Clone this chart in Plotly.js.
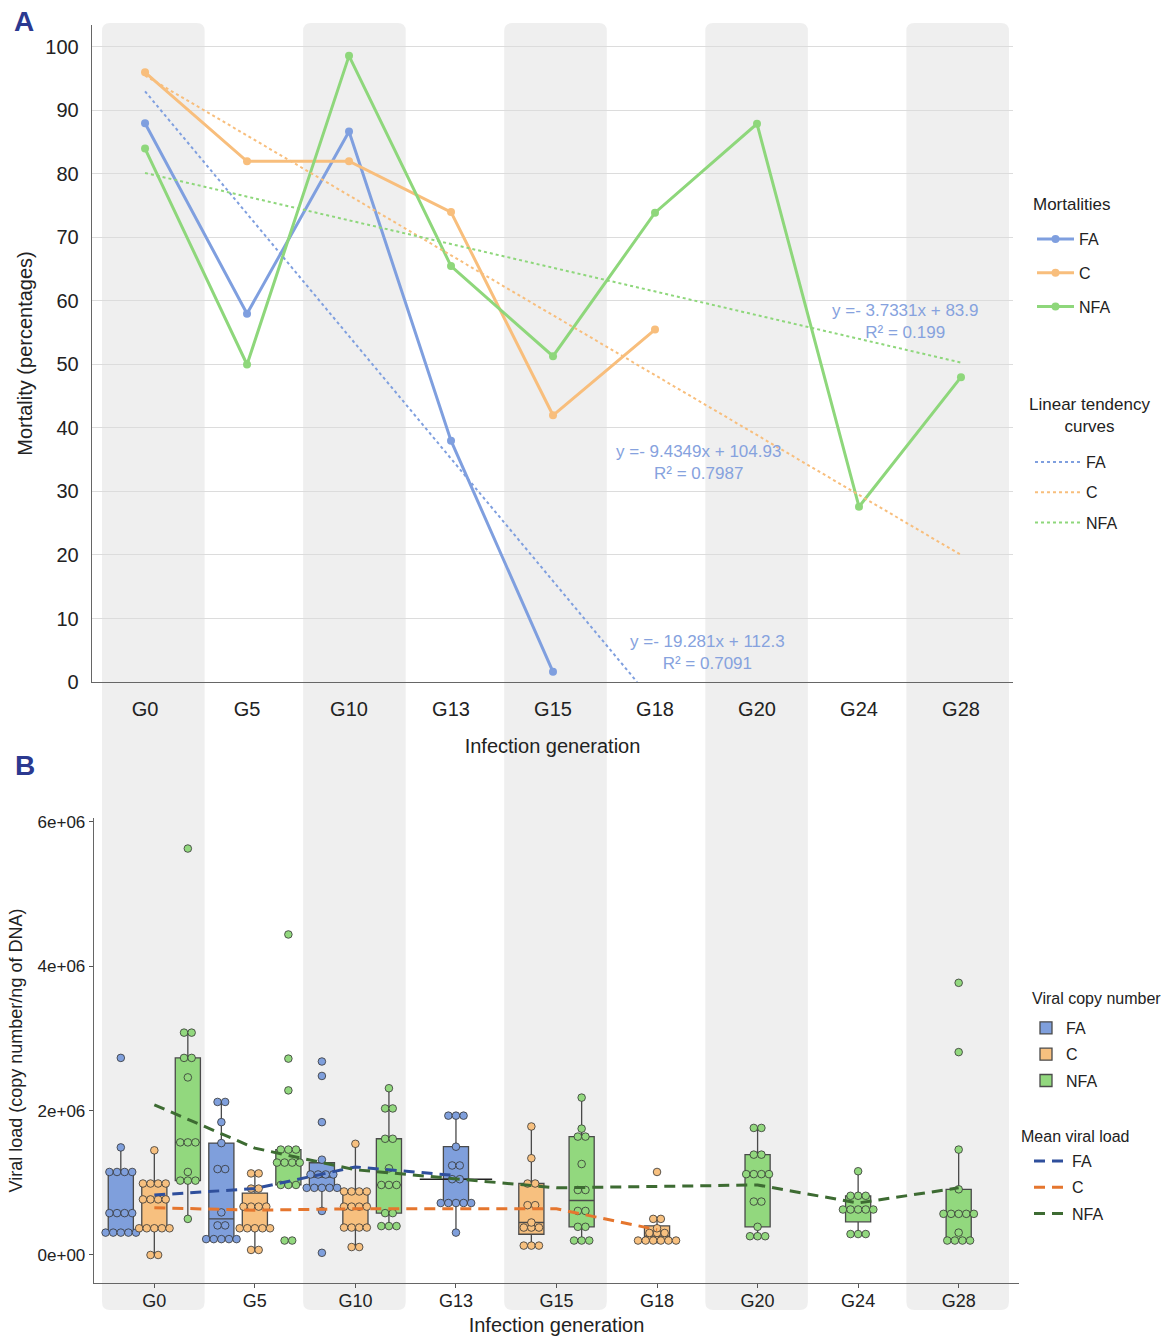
<!DOCTYPE html>
<html>
<head>
<meta charset="utf-8">
<script src="https://cdn.plot.ly/plotly-3.0.1.min.js"></script>
<style>
  html, body { margin: 0; padding: 0; background: #ffffff; }
  #chart { width: 1168px; height: 1338px; }
</style>
</head>
<body>
<div id="chart"></div>
<script>
// ---------- data ----------
const generations = ['G0', 'G5', 'G10', 'G13', 'G15', 'G18', 'G20', 'G24', 'G28'];

// Panel A: mortality (%) by infection generation
const mortalityFA  = [88, 58, 86.7, 38, 1.6];
const mortalityC   = [96, 82, 82, 74, 42, 55.5];
const mortalityNFA = [84, 50, 98.6, 65.5, 51.3, 73.9, 87.9, 27.6, 48];

// Linear fits on generation rank (1..9): [slope, intercept, R²]
const fitFA  = [-19.281, 112.3, 0.7091];
const fitC   = [-9.4349, 104.93, 0.7987];
const fitNFA = [-3.7331, 83.9, 0.199];

// Panel B: viral copy number per ng of DNA (millions), one list per generation
const viralFA = [
  [2.73, 1.49, 1.15, 1.15, 1.15, 1.15, 0.58, 0.58, 0.58, 0.58, 0.31, 0.31, 0.31, 0.31, 0.31],
  [2.12, 2.12, 1.84, 1.55, 1.19, 1.19, 0.59, 0.41, 0.41, 0.22, 0.22, 0.22, 0.22, 0.22],
  [2.68, 2.48, 1.84, 1.32, 1.15, 1.15, 1.15, 1.08, 0.93, 0.93, 0.93, 0.93, 0.93, 0.61, 0.03],
  [1.93, 1.93, 1.93, 1.5, 1.24, 1.24, 1.05, 1.05, 0.72, 0.72, 0.72, 0.72, 0.72, 0.31],
  [], [], [], [], []
];
const viralC = [
  [1.45, 0.99, 0.99, 0.99, 0.99, 0.77, 0.77, 0.77, 0.77, 0.37, 0.37, 0.37, 0.37, 0.37, 0.0, 0.0],
  [1.13, 1.13, 0.92, 0.92, 0.67, 0.67, 0.67, 0.67, 0.37, 0.37, 0.37, 0.37, 0.37, 0.07, 0.07],
  [1.54, 0.88, 0.88, 0.88, 0.88, 0.67, 0.67, 0.67, 0.67, 0.38, 0.38, 0.38, 0.38, 0.11, 0.11],
  [],
  [1.78, 1.34, 0.99, 0.99, 0.69, 0.69, 0.45, 0.42, 0.38, 0.34, 0.13, 0.13, 0.13],
  [1.15, 0.5, 0.5, 0.37, 0.35, 0.33, 0.26, 0.24, 0.22, 0.2, 0.19, 0.17, 0.16],
  [], [], []
];
const viralNFA = [
  [5.63, 3.08, 3.08, 2.73, 2.73, 2.46, 1.56, 1.56, 1.56, 1.15, 1.03, 1.03, 1.03, 0.5],
  [4.44, 2.72, 2.28, 1.46, 1.46, 1.46, 1.28, 1.28, 1.28, 1.28, 0.97, 0.97, 0.97, 0.2, 0.2],
  [2.31, 2.03, 2.03, 1.61, 1.61, 1.2, 0.97, 0.97, 0.97, 0.58, 0.58, 0.4, 0.4, 0.4],
  [],
  [2.18, 1.75, 1.64, 1.64, 1.26, 0.9, 0.9, 0.61, 0.61, 0.39, 0.39, 0.2, 0.2, 0.2],
  [],
  [1.76, 1.76, 1.39, 1.39, 1.12, 1.12, 1.12, 1.12, 0.74, 0.74, 0.39, 0.26, 0.26, 0.26],
  [1.16, 0.82, 0.82, 0.82, 0.63, 0.63, 0.63, 0.63, 0.63, 0.29, 0.29, 0.29],
  [3.77, 2.81, 1.46, 0.91, 0.57, 0.57, 0.57, 0.57, 0.57, 0.31, 0.2, 0.2, 0.2, 0.2]
];

// Mean viral load per generation (millions); null where the group was not sampled
const meanFA  = [0.83, 0.92, 1.22, 1.10, null, null, null, null, null];
const meanC   = [0.655, 0.62, 0.64, null, 0.64, 0.35, null, null, null];
const meanNFA = [2.08, 1.48, 1.18, null, 0.93, null, 0.97, 0.72, 0.93];

// ---------- styling ----------
const UNIT = 1e6;
const FONT = '"Liberation Sans", Arial, sans-serif';
const INK = '#222222';
const groups = ['FA', 'C', 'NFA'];
const viral = { FA: viralFA, C: viralC, NFA: viralNFA };
const means = { FA: meanFA, C: meanC, NFA: meanNFA };
const lineCol = { FA: '#7f9fdf', C: '#f8be7c', NFA: '#8ed77b' };
const boxCol  = { FA: '#7f9fdc', C: '#f7c07f', NFA: '#92d87e' };
const meanCol = { FA: '#2f4f9c', C: '#e5762e', NFA: '#3d6b32' };

const W = 1168, H = 1338;
const domA = { x: [92 / W, 1013 / W], y: [1 - 682 / H, 1 - 25 / H] };
const domB = { x: [94 / W, 1019 / W], y: [1 - 1283 / H, 1 - 818 / H] };
const rangeAx = [-0.52, 8.51];
const rangeBx = [-0.6, 8.6];
const rangeBy = [-0.388 * UNIT, 6.053 * UNIT];

const traces = [];

// ---------- panel A ----------
const mort = { FA: mortalityFA, C: mortalityC, NFA: mortalityNFA };
groups.forEach(k => {
  traces.push({
    type: 'scatter', mode: 'lines+markers', xaxis: 'x', yaxis: 'y',
    x: mort[k].map((_, i) => i), y: mort[k],
    name: k, legend: 'legend', legendgroup: 'mort' + k,
    line: { color: lineCol[k], width: 3 },
    marker: { color: lineCol[k], size: 8 },
    hoverinfo: 'skip'
  });
});

// trend lines evaluated from the fitted equations (rank t = index + 1)
const fits = { FA: fitFA, C: fitC, NFA: fitNFA };
groups.forEach(k => {
  const [a, b] = fits[k];
  const tEnd = Math.min(generations.length, -b / a);
  const ts = [1, tEnd];
  traces.push({
    type: 'scatter', mode: 'lines', xaxis: 'x', yaxis: 'y',
    x: ts.map(t => t - 1), y: ts.map(t => a * t + b),
    name: k, legend: 'legend2', legendgroup: 'fit' + k,
    line: { color: lineCol[k], width: 2, dash: 'dot' },
    hoverinfo: 'skip'
  });
});

// ---------- panel B ----------
function present(g) { return groups.filter(k => viral[k][g].length > 0); }
function offset(k, g) {
  const p = present(g);
  return (p.indexOf(k) + 0.5) / p.length - 0.5;
}
// dot-density binning: each bin spans at most binWidth and is centred on its range
function dotBins(values, binWidth) {
  const v = values.slice().sort((a, b) => a - b);
  const bins = [];
  let i = 0;
  while (i < v.length) {
    let j = i;
    while (j < v.length && v[j] < v[i] + binWidth - 1e-9) j++;
    bins.push({ n: j - i, centre: (v[i] + v[j - 1]) / 2 });
    i = j;
  }
  return bins;
}
function median(values) {
  const v = values.slice().sort((a, b) => a - b);
  const h = (v.length - 1) / 2;
  return (v[Math.floor(h)] + v[Math.ceil(h)]) / 2;
}
const pxPerUnitB = (domB.x[1] - domB.x[0]) * W / (rangeBx[1] - rangeBx[0]);
const dotStep = 7.6 / pxPerUnitB;
const BIN = 0.1;

groups.forEach(k => {
  const bx = [], by = [];
  viral[k].forEach((vals, g) => {
    vals.forEach(v => { bx.push(g + offset(k, g)); by.push(v * UNIT); });
  });
  traces.push({
    type: 'box', xaxis: 'x2', yaxis: 'y2', x: bx, y: by,
    name: k, legend: 'legend3', legendgroup: 'box' + k,
    width: 0.25, whiskerwidth: 0, boxpoints: 'outliers', quartilemethod: 'linear',
    fillcolor: boxCol[k],
    line: { color: '#4a4a4a', width: 1.3 },
    marker: { size: 1, opacity: 0 },
    hoverinfo: 'skip'
  });
});

// wide median bar for the lone FA box at G13
const g13 = generations.indexOf('G13');
const medG13 = median(viralFA[g13]) * UNIT;
traces.push({
  type: 'scatter', mode: 'lines', xaxis: 'x2', yaxis: 'y2',
  x: [g13 - 0.36, g13 + 0.36], y: [medG13, medG13],
  line: { color: '#222222', width: 1.6 }, showlegend: false, hoverinfo: 'skip'
});

groups.forEach(k => {
  const dx = [], dy = [];
  viral[k].forEach((vals, g) => {
    if (!vals.length) return;
    const c = g + offset(k, g);
    dotBins(vals, BIN).forEach(bin => {
      for (let j = 0; j < bin.n; j++) {
        dx.push(c + (j - (bin.n - 1) / 2) * dotStep);
        dy.push(bin.centre * UNIT);
      }
    });
  });
  traces.push({
    type: 'scatter', mode: 'markers', xaxis: 'x2', yaxis: 'y2', x: dx, y: dy,
    showlegend: false, hoverinfo: 'skip',
    marker: { size: 7.6, color: boxCol[k], line: { color: '#333333', width: 0.8 } }
  });
});

groups.forEach(k => {
  traces.push({
    type: 'scatter', mode: 'lines', xaxis: 'x2', yaxis: 'y2',
    x: generations.map((_, i) => i), y: means[k].map(v => v === null ? null : v * UNIT),
    connectgaps: true, name: k, legend: 'legend4', legendgroup: 'mean' + k,
    line: { color: meanCol[k], width: 3, dash: '11px,7px' },
    hoverinfo: 'skip'
  });
});

// ---------- background bands on alternate generations ----------
function roundedBand(x0, x1, y0, y1, rx, ry) {
  return `M${x0 + rx},${y0} L${x1 - rx},${y0} Q${x1},${y0} ${x1},${y0 + ry} ` +
         `L${x1},${y1 - ry} Q${x1},${y1} ${x1 - rx},${y1} L${x0 + rx},${y1} ` +
         `Q${x0},${y1} ${x0},${y1 - ry} L${x0},${y0 + ry} Q${x0},${y0} ${x0 + rx},${y0} Z`;
}
const shapes = [];
generations.forEach((g, i) => {
  if (i % 2 !== 0) return;
  shapes.push({
    type: 'path', xref: 'x2', yref: 'paper', layer: 'below',
    path: roundedBand(i - 0.52, i + 0.5, 1 - 1310 / H, 1 - 23 / H, 0.08, 8 / H),
    fillcolor: '#efefef', line: { width: 0 }
  });
});

// ---------- annotations ----------
function eqText(fit) {
  return `y =- ${Math.abs(fit[0])}x + ${fit[1]}<br>R² = ${fit[2]}`;
}
const eqFont = { family: FONT, size: 17, color: '#86a2de' };
function paperText(text, xpx, ypx, size, xanchor) {
  return { xref: 'paper', yref: 'paper', x: xpx / W, y: 1 - ypx / H, text: text, showarrow: false,
           xanchor: xanchor, yanchor: 'middle', align: 'center', font: { family: FONT, size: size, color: INK } };
}
const annotations = [
  { xref: 'x', yref: 'y', x: 7.46, y: 56.7, text: eqText(fitNFA), showarrow: false, font: eqFont, align: 'center' },
  { xref: 'x', yref: 'y', x: 5.43, y: 34.5, text: eqText(fitC), showarrow: false, font: eqFont, align: 'center' },
  { xref: 'x', yref: 'y', x: 5.51, y: 4.6, text: eqText(fitFA), showarrow: false, font: eqFont, align: 'center' },
  { xref: 'paper', yref: 'paper', x: 24 / W, y: 1 - 21 / H, xanchor: 'center', yanchor: 'middle',
    text: '<b>A</b>', showarrow: false, font: { family: FONT, size: 28, color: '#2b3990' } },
  { xref: 'paper', yref: 'paper', x: 25 / W, y: 1 - 765 / H, xanchor: 'center', yanchor: 'middle',
    text: '<b>B</b>', showarrow: false, font: { family: FONT, size: 28, color: '#2b3990' } },
  // legend headings
  paperText('Mortalities', 1031, 204, 17, 'left'),
  paperText('Linear tendency<br>curves', 1089, 415, 17, 'center'),
  paperText('Viral copy number', 1030, 998, 16, 'left'),
  paperText('Mean viral load', 1019, 1136, 16, 'left')
];

// ---------- layout ----------
const legendBase = {
  xanchor: 'left', yanchor: 'top', bgcolor: 'rgba(0,0,0,0)', borderwidth: 0,
  font: { family: FONT, size: 16, color: INK }
};

const layout = {
  width: W, height: H,
  margin: { l: 0, r: 0, t: 0, b: 0 },
  paper_bgcolor: '#ffffff', plot_bgcolor: 'rgba(0,0,0,0)',
  font: { family: FONT, color: INK },
  showlegend: true, boxmode: 'overlay',
  xaxis: {
    domain: domA.x, range: rangeAx, anchor: 'y',
    tickmode: 'array', tickvals: generations.map((_, i) => i), ticktext: generations,
    ticks: '', ticklabelstandoff: 9, tickfont: { family: FONT, size: 20, color: INK },
    showgrid: false, zeroline: false, showline: true, linecolor: '#666666', linewidth: 1.3,
    title: { text: 'Infection generation', font: { family: FONT, size: 20, color: INK }, standoff: 19 }
  },
  yaxis: {
    domain: domA.y, range: [0, 103.46], anchor: 'x',
    tickmode: 'array', tickvals: [0, 10, 20, 30, 40, 50, 60, 70, 80, 90, 100],
    ticks: '', ticklabelstandoff: 8, tickfont: { family: FONT, size: 20, color: INK },
    showgrid: true, gridcolor: '#dcdcdc', gridwidth: 1, zeroline: false,
    showline: true, linecolor: '#666666', linewidth: 1.3,
    title: { text: 'Mortality (percentages)', font: { family: FONT, size: 20, color: INK }, standoff: 7 }
  },
  xaxis2: {
    domain: domB.x, range: rangeBx, anchor: 'y2',
    tickmode: 'array', tickvals: generations.map((_, i) => i), ticktext: generations,
    ticks: 'outside', ticklen: 4, tickcolor: '#555555', ticklabelstandoff: -3,
    tickfont: { family: FONT, size: 18, color: INK },
    showgrid: false, zeroline: false, showline: true, linecolor: '#666666', linewidth: 1.3,
    title: { text: 'Infection generation', font: { family: FONT, size: 20, color: INK }, standoff: 8 }
  },
  yaxis2: {
    domain: domB.y, range: rangeBy, anchor: 'x2',
    tickmode: 'array', tickvals: [0, 2e6, 4e6, 6e6], ticktext: ['0e+00', '2e+06', '4e+06', '6e+06'],
    ticks: 'outside', ticklen: 4, tickcolor: '#555555', tickfont: { family: FONT, size: 17, color: INK },
    showgrid: false, zeroline: false, showline: true, linecolor: '#666666', linewidth: 1.3,
    title: { text: 'Viral load (copy number/ng of DNA)', font: { family: FONT, size: 18, color: INK }, standoff: 10 }
  },
  legend: Object.assign({}, legendBase, {
    x: 1032 / W, y: 1 - 222 / H, tracegroupgap: 10, itemwidth: 37
  }),
  legend2: Object.assign({}, legendBase, {
    x: 1030 / W, y: 1 - 445 / H, tracegroupgap: 6.5, itemwidth: 46
  }),
  legend3: Object.assign({}, legendBase, {
    x: 1026 / W, y: 1 - 1011 / H, tracegroupgap: 2.5, itemwidth: 30
  }),
  legend4: Object.assign({}, legendBase, {
    x: 1029 / W, y: 1 - 1144 / H, tracegroupgap: 2.5, itemwidth: 33
  }),
  shapes: shapes,
  annotations: annotations
};

Plotly.newPlot('chart', traces, layout, { displayModeBar: false, staticPlot: true });
</script>
</body>
</html>
